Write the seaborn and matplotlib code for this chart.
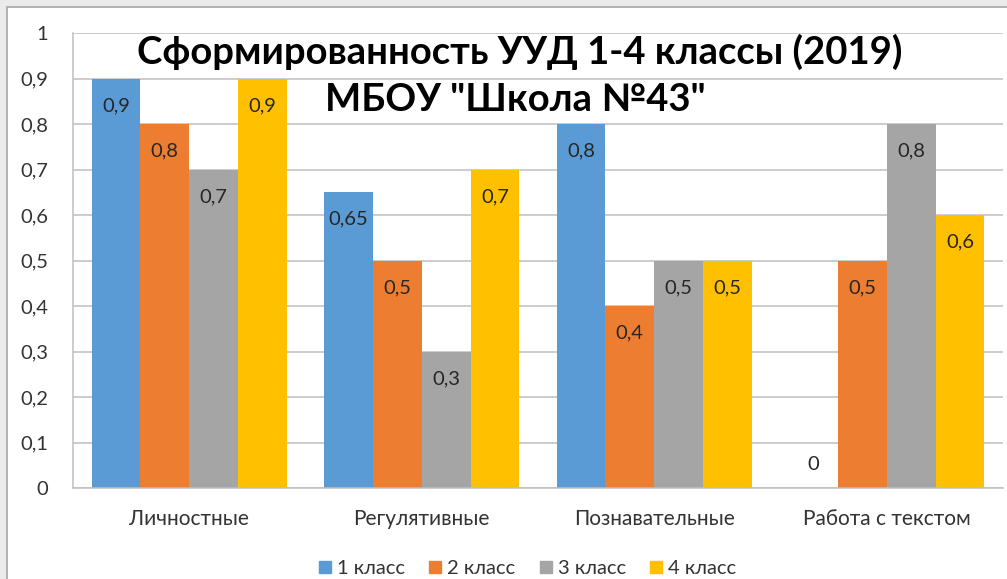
import pandas as pd
import matplotlib.pyplot as plt
import seaborn as sns
from matplotlib.patches import Rectangle
from matplotlib.lines import Line2D

# Данные диаграммы
categories = ['Личностные', 'Регулятивные', 'Познавательные', 'Работа с текстом']
classes = ['1 класс', '2 класс', '3 класс', '4 класс']
class1 = [0.9, 0.65, 0.8, 0]
class2 = [0.8, 0.5, 0.4, 0.5]
class3 = [0.7, 0.3, 0.5, 0.8]
class4 = [0.9, 0.7, 0.5, 0.6]
colors = ['#5B9BD5', '#ED7D31', '#A5A5A5', '#FFC000']

rows = []
for cls, vals in zip(classes, [class1, class2, class3, class4]):
    for cat, v in zip(categories, vals):
        rows.append({'cat': cat, 'cls': cls, 'val': v})
df = pd.DataFrame(rows)

sns.set_style('white')
plt.rcParams['font.family'] = ['Lato', 'Open Sans', 'DejaVu Sans']

fig = plt.figure(figsize=(10.07, 5.79), dpi=100, facecolor='#ebebeb')
# белая рамка диаграммы
frame = Rectangle((7 / 1007, -0.05), 1.1, 1 - 7 / 579 + 0.05,
                  transform=fig.transFigure, facecolor='white',
                  edgecolor='#a6a6a6', linewidth=1.2, zorder=-10)
fig.patches.append(frame)

ax = fig.add_axes([73 / 1007, 1 - 488 / 579, 930 / 1007, 455 / 579])
ax.set_zorder(1)
ax.set_facecolor('white')
sns.barplot(data=df, x='cat', y='val', hue='cls', palette=colors, width=0.84,
            saturation=1, ax=ax, legend=False, zorder=2, linewidth=0,
            edgecolor='none')

ax.set_ylim(0, 1)
ax.set_xlim(-0.5, 3.5)
ax.set_yticks([i / 10 for i in range(11)])
ax.set_yticklabels(['0'] + [f'0,{i}' for i in range(1, 10)] + ['1'])
ax.yaxis.grid(True, color='#bfbfbf', linewidth=1.1, zorder=0)
ax.set_axisbelow(True)
ax.tick_params(axis='both', length=0, labelsize=14.5, colors='#333333')
ax.tick_params(axis='y', pad=18)
ax.tick_params(axis='x', labelsize=15, pad=15)
ax.set_xlabel('')
ax.set_ylabel('')
for s in ['top', 'right']:
    ax.spines[s].set_visible(False)
for s in ['left', 'bottom']:
    ax.spines[s].set_color('#bfbfbf')
    ax.spines[s].set_linewidth(1.1)

# подписи значений
for container, vals in zip(ax.containers, [class1, class2, class3, class4]):
    for bar, v in zip(container, vals):
        xc = bar.get_x() + bar.get_width() / 2
        txt = str(v).replace('.', ',') if v != 0 else '0'
        off = -27 if v > 0 else 23
        ax.annotate(txt, (xc, v), xytext=(0, off), textcoords='offset pixels',
                    ha='center', va='center', fontsize=14.5, color='#262626')

fig.text(0.516, 1 - 52 / 579, 'Сформированность УУД 1-4 классы (2019)',
         ha='center', va='center', fontsize=27.5, fontweight='bold', color='black',
         zorder=5)
fig.text(0.512, 1 - 100 / 579, 'МБОУ "Школа №43"',
         ha='center', va='center', fontsize=27.5, fontweight='bold', color='black',
         zorder=5)

handles = [Line2D([], [], marker='s', linestyle='', markersize=9,
                  markerfacecolor=c, markeredgecolor=c) for c in colors]
fig.legend(handles, classes, loc='center', bbox_to_anchor=(0.522, 1 - 568 / 579),
           ncol=4, frameon=False, fontsize=14.5, handletextpad=0.1,
           handlelength=1.0, columnspacing=1.0, labelcolor='#333333')

fig.savefig('out.png', dpi=100, facecolor=fig.get_facecolor())
